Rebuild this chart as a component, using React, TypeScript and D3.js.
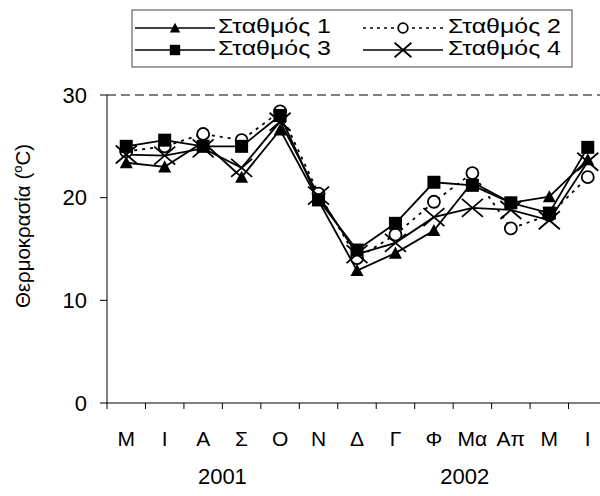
import React from "react";
import * as d3 from "d3";

const months = ["Μ", "Ι", "Α", "Σ", "Ο", "Ν", "Δ", "Γ", "Φ", "Μα", "Απ", "Μ", "Ι"];
const yTicks = [0, 10, 20, 30];
const years = [
  { label: "2001", at: 3 },
  { label: "2002", at: 9.3 },
];

const station1 = [23.4, 23.0, 25.4, 22.0, 26.6, 19.7, 12.9, 14.6, 16.8, 21.5, 19.5, 20.1, 23.7];
const station2 = [24.5, 25.0, 26.2, 25.6, 28.4, 20.4, 14.1, 16.4, 19.6, 22.4, 17.0, 18.3, 22.0];
const station3 = [25.0, 25.6, 25.0, 25.0, 28.0, 19.8, 14.9, 17.5, 21.5, 21.2, 19.5, 18.5, 24.9];
const station4 = [24.2, 24.1, 24.8, 22.9, 27.4, 20.2, 14.5, 15.6, 18.1, 19.0, 18.8, 17.8, 23.5];

type MarkerKind = "triangle" | "circle" | "square" | "cross";

const series: { name: string; values: number[]; marker: MarkerKind; dashed: boolean }[] = [
  { name: "Σταθμός 1", values: station1, marker: "triangle", dashed: false },
  { name: "Σταθμός 2", values: station2, marker: "circle", dashed: true },
  { name: "Σταθμός 3", values: station3, marker: "square", dashed: false },
  { name: "Σταθμός 4", values: station4, marker: "cross", dashed: false },
];

const W = 600;
const H = 496;
const left = 107;
const plotRight = 607;
const top = 95;
const bottom = 403;
const font = "'Liberation Sans', Arial, sans-serif";

function Marker({ kind, x, y, s = 1 }: { kind: MarkerKind; x: number; y: number; s?: number }) {
  if (kind === "triangle") {
    const h = 6.5 * s;
    return <path d={`M${x},${y - h}L${x + h},${y + h * 0.85}L${x - h},${y + h * 0.85}Z`} fill="#000" />;
  }
  if (kind === "square") {
    const h = 6.5 * s;
    return <rect x={x - h} y={y - h} width={2 * h} height={2 * h} fill="#000" />;
  }
  if (kind === "circle") {
    return <circle cx={x} cy={y} r={6 * s} fill="#fff" stroke="#000" strokeWidth={1.8} />;
  }
  const h = 10.5 * s;
  const v = 9 * s;
  return (
    <path d={`M${x - h},${y - v}L${x + h},${y + v}M${x - h},${y + v}L${x + h},${y - v}`} stroke="#000" strokeWidth={1.8} fill="none" />
  );
}

export default function App() {
  const x = d3.scaleBand<number>().domain(d3.range(months.length)).range([left, plotRight]);
  const y = d3.scaleLinear().domain([0, 30]).range([bottom, top]);
  const cx = (i: number) => (x(i) as number) + x.bandwidth() / 2;
  const line = d3
    .line<number>()
    .x((_, i) => cx(i))
    .y((v) => y(v));

  const legendRows = [
    { s: series[0], lx: 135, ly: 28, tx: 218 },
    { s: series[1], lx: 363, ly: 28, tx: 448 },
    { s: series[2], lx: 135, ly: 50, tx: 218 },
    { s: series[3], lx: 363, ly: 50, tx: 448 },
  ];

  return (
    <svg width={W} height={H} style={{ position: "absolute", left: 0, top: 0, background: "#fff" }} fontFamily={font}>
      <rect width={W} height={H} fill="#fff" />
      {/* gridline at the top of the scale */}
      <line x1={left} x2={W} y1={y(30)} y2={y(30)} stroke="#000" strokeWidth={1} strokeDasharray="9,5" />
      {/* axes */}
      <line x1={left} x2={left} y1={y(30)} y2={bottom} stroke="#000" strokeWidth={1} />
      <line x1={left} x2={W} y1={bottom} y2={bottom} stroke="#000" strokeWidth={1} />
      {yTicks.map((t) => (
        <g key={t}>
          <line x1={left - 7} x2={left} y1={y(t)} y2={y(t)} stroke="#000" />
          <text x={87} y={y(t)} dy="0.35em" textAnchor="end" fontSize={22}>
            {t}
          </text>
        </g>
      ))}
      {d3.range(months.length + 1).map((i) => {
        const tx = left + i * x.step();
        return <line key={i} x1={tx} x2={tx} y1={bottom} y2={bottom + 6} stroke="#000" />;
      })}
      {months.map((m, i) => (
        <text key={i} x={cx(i)} y={446} textAnchor="middle" fontSize={21}>
          {m}
        </text>
      ))}
      {years.map((yr) => (
        <text key={yr.label} x={left + yr.at * x.step()} y={484} textAnchor="middle" fontSize={22}>
          {yr.label}
        </text>
      ))}
      <text transform={`translate(30,226) rotate(-90)`} textAnchor="middle" fontSize={20.5}>
        Θερμοκρασία (
        <tspan dy={-8} fontSize={13}>
          o
        </tspan>
        <tspan dy={8}>C)</tspan>
      </text>

      {/* station series */}
      {series.map((s) => (
        <path
          key={s.name}
          d={line(s.values) ?? ""}
          fill="none"
          stroke="#000"
          strokeWidth={1.8}
          strokeDasharray={s.dashed ? "3,5" : undefined}
        />
      ))}
      {series.map((s) => (
        <g key={s.name + "m"}>
          {s.values.map((v, i) => (
            <Marker key={i} kind={s.marker} x={cx(i)} y={y(v)} />
          ))}
        </g>
      ))}

      {/* legend */}
      <rect x={132} y={10} width={440} height={57} fill="#fff" stroke="#444" strokeWidth={1} />
      {legendRows.map(({ s, lx, ly, tx }) => (
        <g key={s.name + "l"}>
          <line
            x1={lx}
            x2={lx + 80}
            y1={ly}
            y2={ly}
            stroke="#000"
            strokeWidth={1.3}
            strokeDasharray={s.dashed ? "3,4" : undefined}
          />
          <Marker kind={s.marker} x={lx + 40} y={ly} s={0.8} />
          <text x={tx} y={ly + 5} fontSize={19.5} textLength={113} lengthAdjust="spacingAndGlyphs">
            {s.name}
          </text>
        </g>
      ))}
    </svg>
  );
}
